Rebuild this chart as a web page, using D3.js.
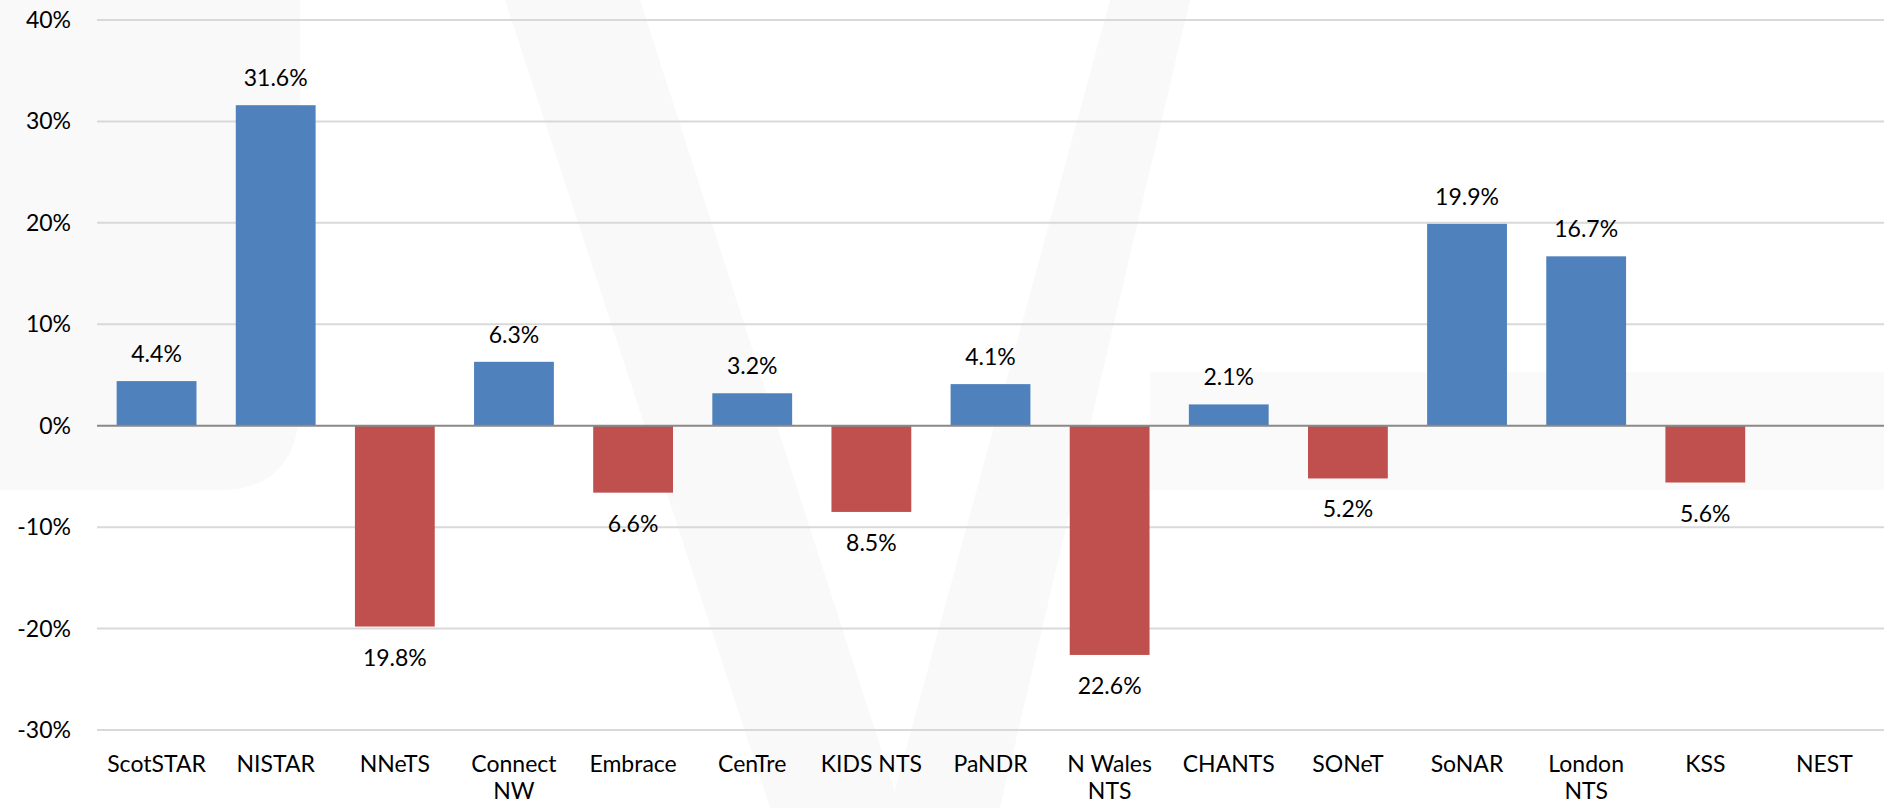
<!doctype html>
<html>
<head>
<meta charset="utf-8"/>
<title>Change by network</title>
<script src="https://d3js.org/d3.v7.min.js"></script>
<style>
  body { margin: 0; background: #fff; }
  text { font-family: Lato, "Open Sans", sans-serif; fill: #000; }
</style>
</head>
<body>
<script>
// data
var networks = ["ScotSTAR", "NISTAR", "NNeTS", "Connect NW", "Embrace", "CenTre", "KIDS NTS",
                "PaNDR", "N Wales NTS", "CHANTS", "SONeT", "SoNAR", "London NTS", "KSS", "NEST"];
var labelLines = [["ScotSTAR"], ["NISTAR"], ["NNeTS"], ["Connect", "NW"], ["Embrace"], ["CenTre"],
                  ["KIDS NTS"], ["PaNDR"], ["N Wales", "NTS"], ["CHANTS"], ["SONeT"], ["SoNAR"],
                  ["London", "NTS"], ["KSS"], ["NEST"]];
var change = [4.4, 31.6, -19.8, 6.3, -6.6, 3.2, -8.5, 4.1, -22.6, 2.1, -5.2, 19.9, 16.7, -5.6, null];
var yTicks = [-30, -20, -10, 0, 10, 20, 30, 40];

var W = 1884, H = 808;
var svg = d3.select("body").append("svg")
    .attr("width", W)
    .attr("height", H);

// faint watermark behind the plot
var wm = svg.append("g").attr("fill", "#f9f9f9");
wm.append("path").attr("d", "M0,0 H300 V400 Q300,490 220,490 H0 Z");
wm.append("path").attr("d", "M505,0 L640,0 L900,808 L770,808 Z");
wm.append("path").attr("d", "M1110,0 L1190,0 L1000,808 L890,808 Z");
wm.append("path").attr("d", "M1150,372 H1884 V490 H1150 Z").attr("fill", "#fafafa");

var x = d3.scaleBand()
    .domain(networks)
    .range([97, 1884])
    .paddingInner(0.33)
    .paddingOuter(0.165);

var y = d3.scaleLinear()
    .domain([-30, 40])
    .range([730, 20]);

// gridlines
svg.append("g")
  .selectAll("line")
  .data(yTicks.filter(function(d) { return d != 0; }))
  .join("line")
    .attr("x1", 97).attr("x2", W)
    .attr("y1", function(d) { return y(d); })
    .attr("y2", function(d) { return y(d); })
    .attr("stroke", "#d9d9d9")
    .attr("stroke-width", 2);

// y labels
svg.append("g")
  .selectAll("text")
  .data(yTicks)
  .join("text")
    .attr("x", 71)
    .attr("y", function(d) { return y(d) + 8; })
    .attr("text-anchor", "end")
    .attr("font-size", 23)
    .text(function(d) { return d + "%"; });

// bars
var rows = networks.map(function(n, i) { return { name: n, v: change[i] }; })
    .filter(function(d) { return d.v != null; });

svg.append("g")
  .selectAll("rect")
  .data(rows)
  .join("rect")
    .attr("x", function(d) { return x(d.name); })
    .attr("width", x.bandwidth())
    .attr("y", function(d) { return y(Math.max(0, d.v)); })
    .attr("height", function(d) { return Math.abs(y(d.v) - y(0)); })
    .attr("fill", function(d) { return d.v >= 0 ? "#4f81bd" : "#c0504d"; });

// zero line
svg.append("line")
    .attr("x1", 97).attr("x2", W)
    .attr("y1", y(0)).attr("y2", y(0))
    .attr("stroke", "#898989")
    .attr("stroke-width", 2);

// value labels (negatives shown without sign)
svg.append("g")
  .selectAll("text")
  .data(rows)
  .join("text")
    .attr("x", function(d) { return x(d.name) + x.bandwidth() / 2; })
    .attr("y", function(d) { return d.v >= 0 ? y(d.v) - 19 : y(d.v) + 39; })
    .attr("text-anchor", "middle")
    .attr("font-size", 23)
    .text(function(d) { return Math.abs(d.v).toFixed(1) + "%"; });

// category labels
var cat = svg.append("g")
  .selectAll("text")
  .data(networks)
  .join("text")
    .attr("x", function(d) { return x(d) + x.bandwidth() / 2; })
    .attr("y", 772)
    .attr("text-anchor", "middle")
    .attr("font-size", 23);
cat.selectAll("tspan")
  .data(function(d, i) { return labelLines[i]; })
  .join("tspan")
    .attr("x", function() { return d3.select(this.parentNode).attr("x"); })
    .attr("dy", function(d, i) { return i == 0 ? 0 : 27; })
    .text(function(d) { return d; });
</script>
</body>
</html>
